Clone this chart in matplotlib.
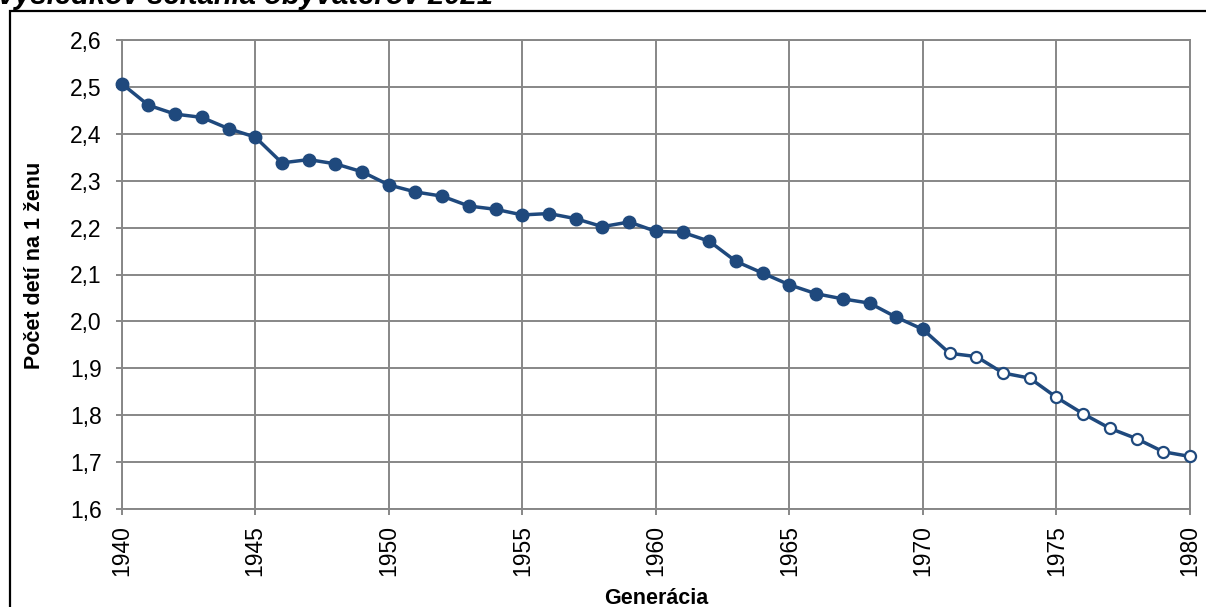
import matplotlib.pyplot as plt
from matplotlib.patches import Rectangle
from matplotlib.ticker import FuncFormatter

plt.rcParams['font.family'] = ['Liberation Sans', 'DejaVu Sans']

years = list(range(1940, 1981))
children = [2.507, 2.461, 2.442, 2.435, 2.411, 2.393, 2.338, 2.345, 2.336, 2.319,
            2.291, 2.276, 2.267, 2.246, 2.239, 2.227, 2.230, 2.219, 2.202, 2.212,
            2.192, 2.190, 2.171, 2.128, 2.103, 2.078, 2.059, 2.048, 2.039, 2.009,
            1.983, 1.932, 1.925, 1.890, 1.879, 1.838, 1.803, 1.772, 1.750, 1.722,
            1.712]
last_complete = 1970  # later generations shown with open markers

blue = '#1F497D'
grey = '#878787'

fig = plt.figure(figsize=(12.06, 6.07), dpi=100)
ax = fig.add_axes([121.7 / 1206, 1 - 509 / 607, (1190 - 121.7) / 1206, (509 - 40) / 607])

full_x = [y for y in years if y <= last_complete]
full_v = [v for y, v in zip(years, children) if y <= last_complete]
open_x = [y for y in years if y > last_complete]
open_v = [v for y, v in zip(years, children) if y > last_complete]

ax.plot(years, children, color=blue, lw=2.5, zorder=3, clip_on=False)
ax.plot(full_x, full_v, 'o', color=blue, ms=9, zorder=4, clip_on=False)
ax.plot(open_x, open_v, 'o', mfc='white', mec=blue, mew=1.6, ms=8, zorder=4, clip_on=False)

ax.set_xlim(1940, 1980)
ax.set_ylim(1.6, 2.6)
ax.set_xticks(range(1940, 1981, 5))
ax.set_yticks([1.6 + 0.1 * i for i in range(11)])
ax.yaxis.set_major_formatter(FuncFormatter(lambda v, p: f'{v:.1f}'.replace('.', ',')))

ax.grid(True, color=grey, lw=1.4)
ax.set_axisbelow(True)
for s in ax.spines.values():
    s.set_color(grey)
    s.set_linewidth(1.4)
ax.tick_params(axis='both', direction='out', length=4.5, width=1.4, color=grey,
               labelcolor='black')
ax.tick_params(axis='y', pad=10, labelsize=16.5)
ax.tick_params(axis='x', pad=7, labelrotation=90, labelsize=16.5)

fig.text(35 / 1206, 1 - 265 / 607, 'Počet detí na 1 ženu', rotation=90,
         ha='center', va='center', fontsize=15.5, fontweight='bold')
fig.text(656 / 1206, 1 - 598 / 607, 'Generácia', ha='center', va='center',
         fontsize=15.5, fontweight='bold')
fig.text(-2 / 1206, 1 - 4 / 607, 'výsledkov sčítania obyvateľov 2021', ha='left',
         va='baseline', fontsize=21, fontweight='bold', style='italic')

fig.patches.append(Rectangle((10 / 1206, -0.1), 1.2, 1 - 11 / 607 + 0.1,
                             transform=fig.transFigure, fill=False,
                             edgecolor='black', lw=1.6))

fig.savefig('out.png', dpi=100)
